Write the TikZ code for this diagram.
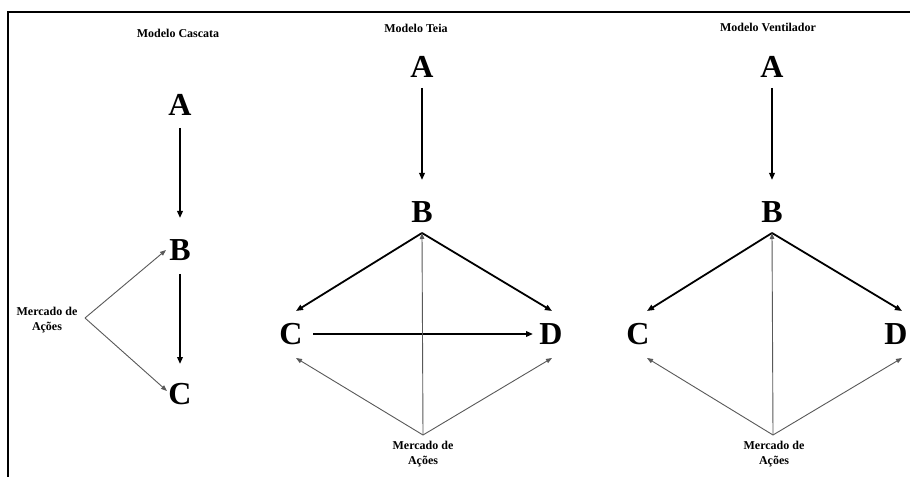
\documentclass[tikz,border=0pt]{standalone}
\usepackage{fontspec}
\setmainfont{Liberation Serif}
\usetikzlibrary{arrows.meta}
\tikzset{
  letter/.style={font=\fontsize{32}{32}\selectfont\bfseries, inner sep=0pt},
  label/.style={font=\fontsize{12}{15}\selectfont\bfseries, align=center, inner sep=0pt},
  strong/.style={line width=1.8pt, -{Triangle[length=7pt,width=5.5pt]}},
  weak/.style={line width=0.9pt, draw=black!65, -{Triangle[length=6pt,width=4.5pt]}},
  frameline/.style={line width=2.2pt}
}
\begin{document}
\begin{tikzpicture}[x=1pt,y=1pt]
\useasboundingbox (0,0) rectangle (910,477);
\fill[white] (0,0) rectangle (910,477);
% frame
\coordinate (fTL) at (8,465);
\coordinate (fTR) at (910,465);
\coordinate (fBL) at (8,0);
\draw[frameline] (fTR) -- (fTL) -- (fBL);

% ---------- Modelo Cascata ----------
\node[label] (t1) at (178,444) {Modelo Cascata};
\node[letter] (A1) at (180,372) {A};
\node[letter] (B1) at (180,227) {B};
\node[letter] (C1) at (180,83) {C};
\node[label] (M1) at (47,156.5) {Mercado de\\Ações};
\draw[strong] ([yshift=-23pt]A1.center) -- ([yshift=32pt]B1.center);
\draw[strong] ([yshift=-24pt]B1.center) -- ([yshift=30pt]C1.center);
\draw[weak] ([xshift=38pt,yshift=2.5pt]M1.center) -- ([xshift=-14pt]B1.center);
\draw[weak] ([xshift=38pt,yshift=2.5pt]M1.center) -- ([xshift=-13pt,yshift=3pt]C1.center);

% ---------- Modelo Teia ----------
\node[label] (t2) at (416,449) {Modelo Teia};
\node[letter] (A2) at (422,410) {A};
\node[letter] (B2) at (422,265) {B};
\node[letter] (C2) at (291,143) {C};
\node[letter] (D2) at (551,143) {D};
\node[label] (M2) at (423,23) {Mercado de\\Ações};
\draw[strong] ([yshift=-21pt]A2.center) -- ([yshift=32pt]B2.center);
\draw[strong] ([yshift=-21pt]B2.center) -- ([xshift=5pt,yshift=23pt]C2.center);
\draw[strong] ([yshift=-21pt]B2.center) -- ([xshift=1pt,yshift=23pt]D2.center);
\draw[strong] ([xshift=22pt]C2.center) -- ([xshift=-18pt]D2.center);
\draw[weak] ([yshift=19pt]M2.center) -- ([xshift=5pt,yshift=-24pt]C2.center);
\draw[weak] ([yshift=19pt]M2.center) -- ([xshift=1pt,yshift=-24pt]D2.center);
\draw[weak] ([yshift=19pt]M2.center) -- ([yshift=-21pt]B2.center);

% ---------- Modelo Ventilador ----------
\node[label] (t3) at (768,450) {Modelo Ventilador};
\node[letter] (A3) at (772,410) {A};
\node[letter] (B3) at (772,265) {B};
\node[letter] (C3) at (638,143) {C};
\node[letter] (D3) at (896,143) {D};
\node[label] (M3) at (774,23) {Mercado de\\Ações};
\draw[strong] ([yshift=-21pt]A3.center) -- ([yshift=32pt]B3.center);
\draw[strong] ([yshift=-21pt]B3.center) -- ([xshift=9pt,yshift=23pt]C3.center);
\draw[strong] ([yshift=-21pt]B3.center) -- ([xshift=6pt,yshift=23pt]D3.center);
\draw[weak] ([xshift=-1pt,yshift=19pt]M3.center) -- ([xshift=9pt,yshift=-24pt]C3.center);
\draw[weak] ([xshift=-1pt,yshift=19pt]M3.center) -- ([xshift=6pt,yshift=-24pt]D3.center);
\draw[weak] ([xshift=-1pt,yshift=19pt]M3.center) -- ([yshift=-21pt]B3.center);
\end{tikzpicture}
\end{document}
